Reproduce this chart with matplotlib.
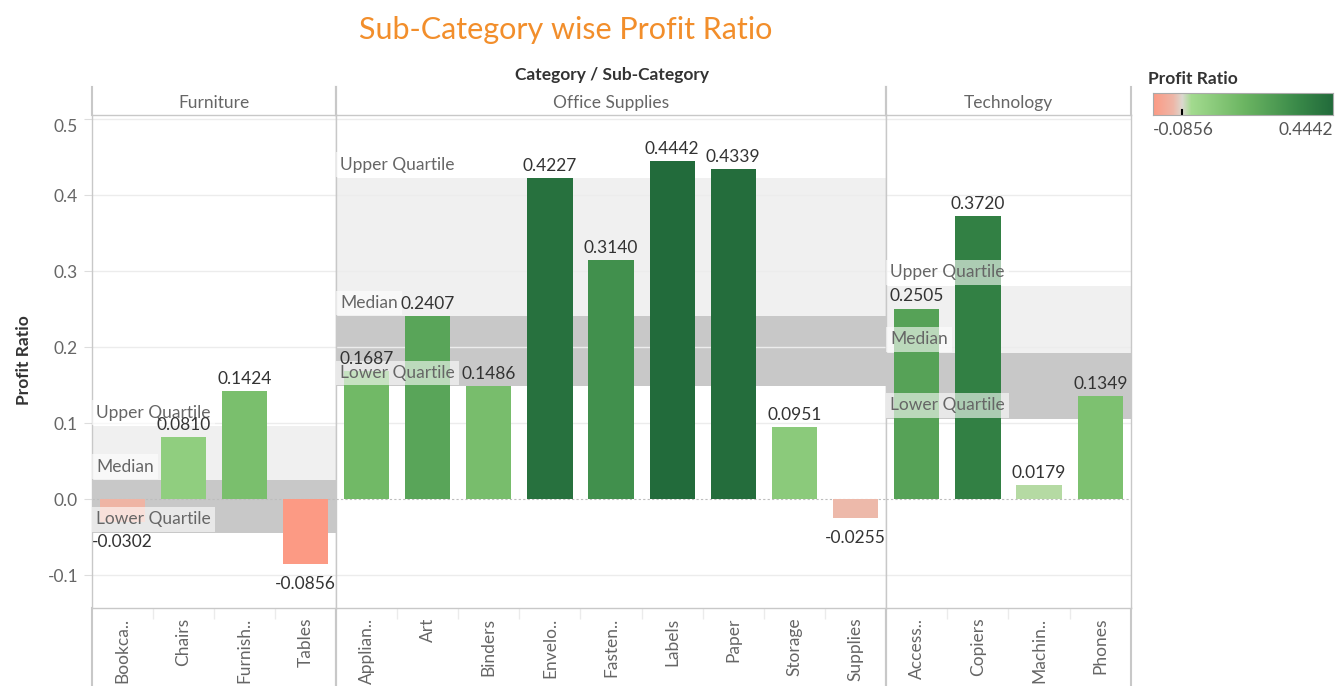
import numpy as np
import matplotlib
matplotlib.use("Agg")
import matplotlib.pyplot as plt
from matplotlib.colors import LinearSegmentedColormap, Normalize
from matplotlib.transforms import blended_transform_factory

plt.rcParams['font.family'] = ['Lato', 'DejaVu Sans']

# data
categories = ['Furniture', 'Office Supplies', 'Technology']
sub_categories = [
    ['Bookca..', 'Chairs', 'Furnish..', 'Tables'],
    ['Applian..', 'Art', 'Binders', 'Envelo..', 'Fasten..', 'Labels', 'Paper',
     'Storage', 'Supplies'],
    ['Access..', 'Copiers', 'Machin..', 'Phones'],
]
profit_ratio = [
    [-0.0302, 0.0810, 0.1424, -0.0856],
    [0.1687, 0.2407, 0.1486, 0.4227, 0.3140, 0.4442, 0.4339, 0.0951, -0.0255],
    [0.2505, 0.3720, 0.0179, 0.1349],
]
upper_quartile = [0.0964, 0.4227, 0.2809]
median = [0.0254, 0.2407, 0.1927]
lower_quartile = [-0.0441, 0.1486, 0.1057]
y_ticks = [-0.1, 0.0, 0.1, 0.2, 0.3, 0.4, 0.5]

W, H = 1341, 686
FS = 12.5
vmin, vmax = -0.0856, 0.4442
f0 = -vmin / (vmax - vmin)
cmap = LinearSegmentedColormap.from_list('rg', [
    (0.0, '#fc9a84'), (0.11, '#eeb6a7'), (f0, '#dcd9d0'), (f0 + 0.05, '#a3db8f'),
    (0.5, '#6db663'), (0.8, '#3a8a49'), (1.0, '#226b3b')])
norm = Normalize(vmin, vmax)

fig = plt.figure(figsize=(W / 100, H / 100), dpi=100)

edges = [92, 336, 886, 1131]
top, bottom = 115, 608
grey_txt = '#666666'
line_col = '#c8c8c8'

axes = []
for i, cat in enumerate(categories):
    x0, x1 = edges[i], edges[i + 1]
    ax = fig.add_axes([x0 / W, 1 - bottom / H, (x1 - x0) / W, (bottom - top) / H],
                      sharey=axes[0] if axes else None)
    axes.append(ax)
    vals = np.array(profit_ratio[i])
    x = np.arange(len(vals))

    # quartile bands
    ax.axhspan(median[i], upper_quartile[i], color='#f0f0f0', lw=0, zorder=0)
    ax.axhspan(lower_quartile[i], median[i], color='#c8c8c8', lw=0, zorder=0)
    for t in y_ticks:
        if t != 0:
            ax.axhline(t, color='#ececec', lw=1, zorder=0.5)
    ax.axhline(0, color='#bdbdbd', lw=0.8, ls=(0, (2, 2)), zorder=0.6)

    ax.bar(x, vals, width=0.74, color=cmap(norm(vals)), zorder=2)
    for xi, v in zip(x, vals):
        if v >= 0:
            ax.annotate(f'{v:.4f}', (xi, v), xytext=(0, 3), textcoords='offset points',
                        ha='center', va='bottom', fontsize=FS, color='#333333', zorder=5)
        else:
            ax.annotate(f'{v:.4f}', (xi, v), xytext=(0, -8.5), textcoords='offset points',
                        ha='center', va='top', fontsize=FS, color='#333333', zorder=5)

    tr = blended_transform_factory(ax.transAxes, ax.transData)
    for name, q in [('Upper Quartile', upper_quartile[i]), ('Median', median[i]),
                    ('Lower Quartile', lower_quartile[i])]:
        ax.annotate(name, (0, q), xycoords=tr, xytext=(3, 9.5), textcoords='offset points',
                    ha='left', va='center', fontsize=FS, color=grey_txt, zorder=4,
                    bbox=dict(boxstyle='square,pad=0.25', fc='white', ec='none', alpha=0.6))

    ax.set_xlim(-0.5, len(vals) - 0.5)
    ax.set_xticks(x)
    ax.set_xticklabels(sub_categories[i], rotation=90, fontsize=FS, color=grey_txt)
    ax.set_xticks(np.arange(0.5, len(vals) - 0.5), minor=True)
    ax.tick_params(axis='x', which='major', length=0, pad=7)
    ax.tick_params(axis='x', which='minor', length=8, color='#ebebeb', width=1)
    for s in ax.spines.values():
        s.set_color(line_col)
        s.set_linewidth(1)
    if i == 0:
        ax.set_yticks(y_ticks)
        ax.set_yticklabels([f'{t:.1f}' for t in y_ticks], fontsize=FS, color=grey_txt)
        ax.tick_params(axis='y', length=6, color='#dddddd', pad=4)
        ax.get_yticklabels()[-1].set_verticalalignment('top')
    else:
        ax.tick_params(axis='y', left=False, labelleft=False)

    # header cell
    hax = fig.add_axes([x0 / W, 1 - top / H, (x1 - x0) / W, 28 / H])
    hax.set_facecolor('none')
    hax.set_xticks([])
    hax.set_yticks([])
    for side in ['top', 'bottom']:
        hax.spines[side].set_visible(False)
    for side in ['left', 'right']:
        hax.spines[side].set_color(line_col)
        hax.spines[side].set_linewidth(1.5)
    hax.text(0.5, 0.42, cat, ha='center', va='center', fontsize=FS, color=grey_txt,
             transform=hax.transAxes)

    # label area cell
    lax = fig.add_axes([x0 / W, 0, (x1 - x0) / W, (H - bottom) / H], zorder=-1)
    lax.set_facecolor('none')
    lax.set_xticks([])
    lax.set_yticks([])
    for side in ['top', 'bottom']:
        lax.spines[side].set_visible(False)
    for side in ['left', 'right']:
        lax.spines[side].set_color(line_col)
        lax.spines[side].set_linewidth(1.5)

axes[0].set_ylim(-0.1434, 0.5053)

fig.text(24 / W, 1 - 360 / H, 'Profit Ratio', rotation=90, ha='center', va='center',
         fontsize=FS, fontweight='bold', color='#333333')
fig.text(612 / W, 1 - 75 / H, 'Category / Sub-Category', ha='center', va='center',
         fontsize=FS, fontweight='bold', color='#333333')
fig.text(566 / W, 1 - 30 / H, 'Sub-Category wise Profit Ratio', ha='center', va='center',
         fontsize=22, color='#f28e2b')

# colour legend
cax = fig.add_axes([1153 / W, 1 - 115 / H, 180 / W, 22 / H])
cax.imshow(np.linspace(0, 1, 256).reshape(1, -1), aspect='auto', cmap=cmap,
           extent=[0, 1, 0, 1])
cax.plot([f0, f0], [0, 0.22], color='black', lw=1.5)
cax.set_xlim(0, 1)
cax.set_ylim(0, 1)
cax.set_xticks([])
cax.set_yticks([])
for s in cax.spines.values():
    s.set_color('#aaaaaa')
fig.text(1148 / W, 1 - 79 / H, 'Profit Ratio', ha='left', va='center',
         fontsize=FS, fontweight='bold', color='#333333')
fig.text(1153 / W, 1 - 130 / H, f'{vmin:.4f}', ha='left', va='center',
         fontsize=FS, color='#555555')
fig.text(1333 / W, 1 - 130 / H, f'{vmax:.4f}', ha='right', va='center',
         fontsize=FS, color='#555555')

fig.savefig('out.png', dpi=100)
